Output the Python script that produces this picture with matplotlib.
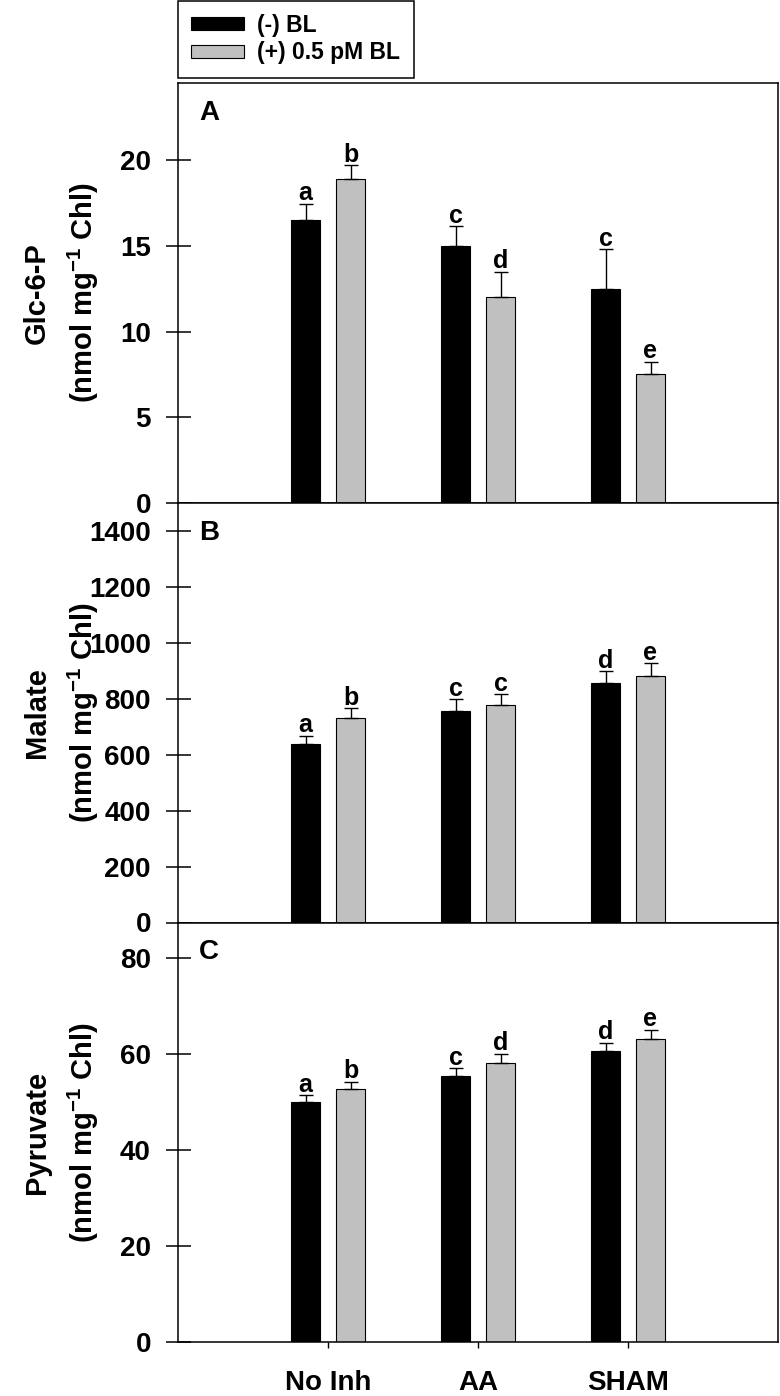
import matplotlib
matplotlib.use('Agg')
import matplotlib.pyplot as plt
import numpy as np

# ---------------- data ----------------
categories = ['No Inh', 'AA', 'SHAM']
series_names = ['(-) BL', '(+) 0.5 pM BL']

glc_minus = [16.5, 15.0, 12.5]
glc_minus_err = [0.95, 1.15, 2.3]
glc_plus = [18.9, 12.0, 7.5]
glc_plus_err = [0.8, 1.5, 0.75]
glc_letters_minus = ['a', 'c', 'c']
glc_letters_plus = ['b', 'd', 'e']

mal_minus = [637, 757, 857]
mal_minus_err = [30, 41, 41]
mal_plus = [730, 778, 882]
mal_plus_err = [37, 38, 45]
mal_letters_minus = ['a', 'c', 'd']
mal_letters_plus = ['b', 'c', 'e']

pyr_minus = [50.0, 55.5, 60.7]
pyr_minus_err = [1.45, 1.6, 1.75]
pyr_plus = [52.8, 58.2, 63.2]
pyr_plus_err = [1.5, 1.9, 1.9]
pyr_letters_minus = ['a', 'c', 'd']
pyr_letters_plus = ['b', 'd', 'e']

panel_letters = ['A', 'B', 'C']
ylabels = ['Glc-6-P\n(nmol mg$^{-1}$ Chl)',
           'Malate\n(nmol mg$^{-1}$ Chl)',
           'Pyruvate\n(nmol mg$^{-1}$ Chl)']
yticks = [[0, 5, 10, 15, 20],
          [0, 200, 400, 600, 800, 1000, 1200, 1400],
          [0, 20, 40, 60, 80]]
ylims = [24.5, 1500, 87.5]

# ---------------- style ----------------
plt.rcParams['font.family'] = ['Liberation Sans', 'DejaVu Sans']
plt.rcParams['font.weight'] = 'bold'
plt.rcParams['mathtext.fontset'] = 'custom'
plt.rcParams['mathtext.rm'] = 'Liberation Sans:bold'
plt.rcParams['mathtext.it'] = 'Liberation Sans:bold'
plt.rcParams['mathtext.bf'] = 'Liberation Sans:bold'
plt.rcParams['mathtext.sf'] = 'Liberation Sans:bold'
plt.rcParams['mathtext.default'] = 'rm'

W, H = 780, 1396
fig = plt.figure(figsize=(W / 100, H / 100), dpi=100)

left_px, right_px = 178, 778
tops_px = [83, 503, 922.5]
bots_px = [503, 922.5, 1342.3]

grey = '#c0c0c0'
x = np.arange(1, len(categories) + 1)
off = 0.15
bw = 0.19

panels = [
    (glc_minus, glc_minus_err, glc_plus, glc_plus_err, glc_letters_minus, glc_letters_plus),
    (mal_minus, mal_minus_err, mal_plus, mal_plus_err, mal_letters_minus, mal_letters_plus),
    (pyr_minus, pyr_minus_err, pyr_plus, pyr_plus_err, pyr_letters_minus, pyr_letters_plus),
]

handles = None
for i, (vm, em, vp, ep, lm, lp) in enumerate(panels):
    ax = fig.add_axes([left_px / W, 1 - bots_px[i] / H,
                       (right_px - left_px) / W, (bots_px[i] - tops_px[i]) / H])
    b1 = ax.bar(x - off, vm, width=bw, color='black', edgecolor='black', linewidth=0.8,
                label=series_names[0], zorder=2)
    b2 = ax.bar(x + off, vp, width=bw, color=grey, edgecolor='black', linewidth=0.8,
                label=series_names[1], zorder=2)
    if handles is None:
        handles = [b1, b2]
    for xs, vals, errs, lets in [(x - off, vm, em, lm), (x + off, vp, ep, lp)]:
        ax.errorbar(xs, vals, yerr=[np.zeros(len(vals)), errs], fmt='none',
                    ecolor='black', elinewidth=1.0, capsize=4.7, capthick=1.0, zorder=3)
        for xx, v, e, t in zip(xs, vals, errs, lets):
            ax.annotate(t, (xx, v + e), xytext=(0, 2.5), textcoords='offset points',
                        ha='center', va='baseline', fontsize=18, fontweight='bold')
    ax.set_xlim(0, 4)
    ax.set_ylim(0, ylims[i])
    ax.set_yticks(yticks[i])
    ax.tick_params(axis='y', direction='inout', length=18, width=1.1, pad=10.5,
                   labelsize=20)
    if i == 2:
        ax.set_xticks(x)
        ax.set_xticklabels(categories)
        ax.tick_params(axis='x', direction='out', length=4.3, width=1.0, pad=16,
                       labelsize=20)
    else:
        ax.set_xticks([])
    for sp in ax.spines.values():
        sp.set_linewidth(1.1)
    ax.annotate(panel_letters[i], (0, 1), xycoords='axes fraction',
                xytext=(15, -26.6), textcoords='offset points',
                ha='left', va='baseline', fontsize=20, fontweight='bold')
    yc = 1 - (tops_px[i] + bots_px[i]) / 2 / H
    fig.text(62 / W, yc, ylabels[i], rotation=90, ha='center', va='center',
             multialignment='center', fontsize=21, fontweight='bold', linespacing=1.57)

leg = fig.legend(handles=handles, labels=series_names, loc='upper left',
                 bbox_to_anchor=(178 / W, 1 - 0.5 / H), fontsize=16.5,
                 frameon=True, fancybox=False, shadow=False, framealpha=1,
                 edgecolor='black', borderpad=0.58, handlelength=2.31,
                 handleheight=0.52, handletextpad=0.57, labelspacing=0.2,
                 borderaxespad=0)
leg.get_frame().set_linewidth(1.1)

fig.savefig('out.png', dpi=100)
